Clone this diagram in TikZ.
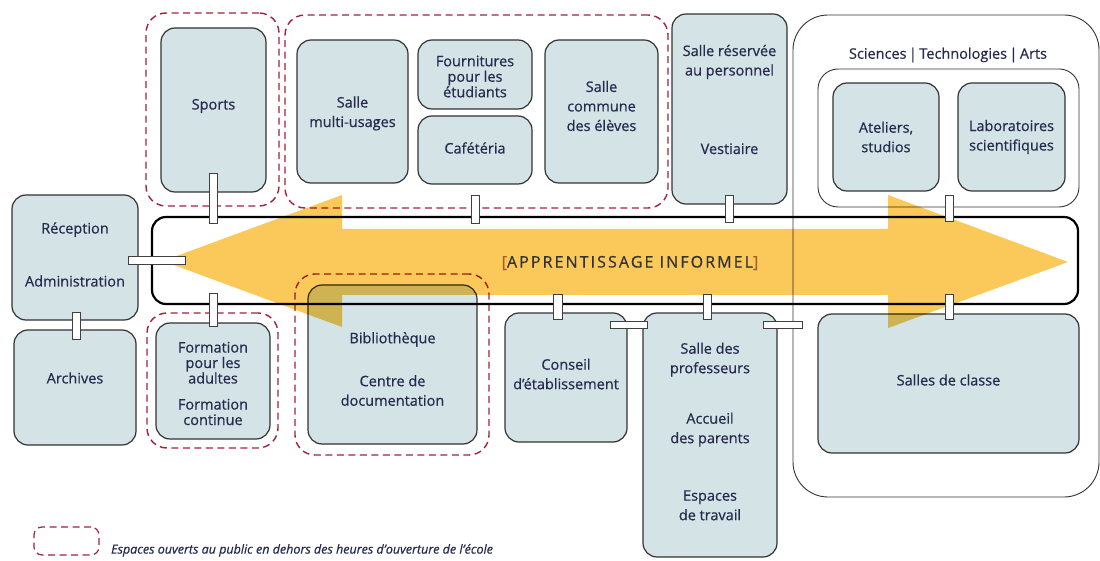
\documentclass[tikz,border=0pt]{standalone}
\usepackage{fontspec}
\setmainfont{Open Sans}[FakeBold=0.6]
\usetikzlibrary{calc,positioning}

\definecolor{roomblue}{RGB}{211,227,230}
\definecolor{openred}{RGB}{160,35,60}
\definecolor{textnavy}{RGB}{38,42,78}
\definecolor{arrowyellow}{RGB}{251,201,90}
\definecolor{bracketbrown}{RGB}{165,95,45}

\begin{document}
\begin{tikzpicture}[x=1pt, y=-1pt,
    room/.style={draw=black!80, line width=1.2pt, fill=roomblue, rounded corners=14pt, inner sep=0pt},
    public/.style={draw=openred, line width=1.4pt, dash pattern=on 7pt off 4.5pt, rounded corners=20pt, inner sep=0pt},
    wing/.style={draw=black!80, line width=0.9pt, inner sep=0pt},
    txt/.style={text=textnavy, align=center, font=\fontsize{14.5}{19.5}\selectfont},
    tight/.style={font=\fontsize{14.5}{15.5}\selectfont},
    rtext/.style 2 args={label={[txt, #1]center:#2}},
    link/.style={draw=black!75, fill=white, line width=0.7pt}
]
\useasboundingbox (0,0) rectangle (1100,561);

% open-to-public groups
\node[public, minimum width=133, minimum height=193] (sportsgrp) at (212.5,109.5) {};
\node[public, minimum width=383, minimum height=193] (commongrp) at (476.5,111.5) {};
\node[public, minimum width=131, minimum height=135] (adultgrp) at (212.5,380.5) {};
\node[public, minimum width=194, minimum height=181] (bibgrp) at (392,364.5) {};

% teaching wing
\node[wing, rounded corners=35pt, minimum width=306, minimum height=482] (sta) at (946,256) {};
\node[wing, rounded corners=20pt, minimum width=261, minimum height=138] (labs) at (948.5,138) {};
\node[txt] (labstitle) at (948,55) {Sciences\,|\,Technologies\,|\,Arts};

% rooms
\node[room, minimum width=126, minimum height=125, rtext={yshift=3}{Réception\\[33.5pt]Administration}] (admin) at (75,257.5) {};
\node[room, minimum width=122, minimum height=115, rtext={yshift=9.5}{Archives}] (archives) at (75,387.5) {};
\node[room, minimum width=105, minimum height=164, rtext={yshift=4}{Sports}] (sports) at (213.5,110) {};
\node[room, minimum width=111, minimum height=143, rtext={yshift=-2}{Salle\\multi-usages}] (multi) at (352.5,111.5) {};
\node[room, minimum width=114, minimum height=69, rtext={yshift=-2, tight}{Fournitures\\pour les\\étudiants}] (supplies) at (475,74.5) {};
\node[room, minimum width=114, minimum height=68, rtext={yshift=2}{Cafétéria}] (cafe) at (475,150) {};
\node[room, minimum width=113, minimum height=143, rtext={yshift=5.5}{Salle\\commune\\des élèves}] (commune) at (601.5,111.5) {};
\node[room, minimum width=115, minimum height=190, rtext={yshift=9.5}{Salle réservée\\au personnel\\[59pt]Vestiaire}] (staff) at (729.5,109) {};
\node[room, minimum width=106, minimum height=108, rtext={}{Ateliers,\\studios}] (studios) at (886,137) {};
\node[room, minimum width=107, minimum height=108, rtext={}{Laboratoires\\scientifiques}] (labo) at (1011.5,137) {};
\node[room, minimum width=261, minimum height=139, rtext={yshift=3.5}{Salles de classe}] (classe) at (948.5,383.5) {};
\node[room, minimum width=114, minimum height=116, rtext={yshift=-2.5, tight}{Formation\\pour les\\adultes\\[10.5pt]Formation\\continue}] (adult) at (213,381) {};
\node[room, minimum width=169, minimum height=159, rtext={yshift=-4.5}{Bibliothèque\\[23.5pt]Centre de\\documentation}] (biblio) at (392.5,364.5) {};
\node[room, minimum width=122, minimum height=129, rtext={yshift=3.5}{Conseil\\d’établissement}] (conseil) at (566,377.5) {};
\node[room, minimum width=134, minimum height=244, rtext={yshift=3.5}{Salle des\\professeurs\\[31pt]Accueil\\des parents\\[38pt]Espaces\\de travail}] (prof) at (710,435) {};

% informal learning street
\node[draw=black, line width=2.2pt, rounded corners=14pt, minimum width=926, minimum height=87] (rail) at (615,260.5) {};
\fill[arrowyellow, blend mode=multiply] (163,261) -- (342,195) -- (342,229) -- (888,229) -- (888,195)
    -- (1068,262) -- (888,328) -- (888,295) -- (342,295) -- (342,327) -- cycle;
\node[txt, font=\fontsize{16}{18}\selectfont\addfontfeatures{LetterSpace=13}, text=black!80] (railtitle) at ($(rail.center)+(15,2.5)$)
    {\textcolor{bracketbrown}{[}APPRENTISSAGE INFORMEL\textcolor{bracketbrown}{]}};

% links
\draw[link] ($(sports.south)+(-4,-19)$) rectangle ($(sports.south |- rail.north)+(4,7)$);
\draw[link] ($(cafe.south)+(-4,11)$) rectangle ($(cafe.south |- rail.north)+(4,7)$);
\draw[link] ($(staff.south)+(-4,-9)$) rectangle ($(staff.south |- rail.north)+(4,6)$);
\draw[link] ($(labs.south)+(-3,-12)$) rectangle ($(labs.south |- rail.north)+(4.5,5)$);
\draw[link] ($(rail.south -| adult.north)+(-4,-12)$) rectangle ($(adult.north)+(4,4)$);
\draw[link] ($(rail.south -| conseil.north)+(-12.5,-11)$) rectangle ($(conseil.north)+(-3.5,7)$);
\draw[link] ($(rail.south -| prof.north)+(-7,-11)$) rectangle ($(prof.north)+(1,7)$);
\draw[link] ($(rail.south -| classe.north)+(-3,-11)$) rectangle ($(classe.north)+(4.5,6)$);
\draw[link] ($(admin.south)+(-3,-8)$) rectangle ($(archives.north)+(5,10)$);
\draw[link] ($(admin.east)+(-10,-1.5)$) rectangle ($(admin.east -| rail.west)+(34,6.5)$);
\draw[link] ($(conseil.north east)+(-17,9)$) rectangle ($(prof.north west)+(5,16)$);
\draw[link] ($(prof.north east)+(-14,9)$) rectangle ($(prof.north east -| sta.west)+(10,16)$);

% legend
\node[public, rounded corners=8pt, line width=1.2pt, minimum width=65, minimum height=28] (legend) at (66.5,541) {};
\node[anchor=base west, text=textnavy, font=\fontsize{12.5}{14}\selectfont\itshape] (legendtxt)
    at ($(legend.south east)+(8,-2)$) {Espaces ouverts au public en dehors des heures d’ouverture de l’école};

\end{tikzpicture}
\end{document}
